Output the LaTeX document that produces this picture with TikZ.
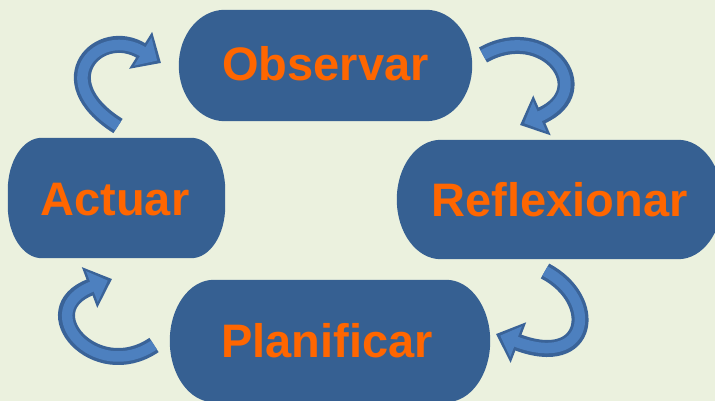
\documentclass[tikz,border=0pt]{standalone}
\usepackage{fontspec}
\setmainfont{Liberation Sans}
\usetikzlibrary{arrows.meta}
\definecolor{bgc}{HTML}{EBF1DE}
\definecolor{boxc}{HTML}{366092}
\definecolor{txtc}{HTML}{FF6600}
\definecolor{arrb}{HTML}{3A6398}
\definecolor{arrf}{HTML}{4D80BF}
\tikzset{
  stagebox/.style={rectangle, fill=none, draw=none,
    text=txtc, font=\bfseries\fontsize{47}{52}\selectfont, inner sep=0pt},
  arrowout/.style={line width=17pt, draw=arrb, line cap=butt,
    -{Triangle[length=24pt,width=42pt]}},
  arrowin/.style={line width=10.5pt, draw=arrf, line cap=butt, shorten >=4.5pt,
    -{Triangle[length=17pt,width=32pt]}},
}
% elliptic-cornered box behind a node: #1 node, #2 rx, #3 ry
\newcommand{\ellbox}[3]{%
  \fill[boxc] ([xshift=#2]#1.north west) -- ([xshift=-#2]#1.north east)
    arc[start angle=90,end angle=0,x radius=#2,y radius=#3]
    -- ([yshift=#3]#1.south east)
    arc[start angle=0,end angle=-90,x radius=#2,y radius=#3]
    -- ([xshift=#2]#1.south west)
    arc[start angle=270,end angle=180,x radius=#2,y radius=#3]
    -- ([yshift=-#3]#1.north west)
    arc[start angle=180,end angle=90,x radius=#2,y radius=#3] -- cycle;}
\begin{document}
\begin{tikzpicture}[x=1pt,y=-1pt]
\fill[bgc] (0,0) rectangle (715,401);
\useasboundingbox (0,0) rectangle (715,401);

\node[stagebox, minimum width=293pt, minimum height=111pt] (obs) at (325.5,65.5) {};
\node[stagebox, minimum width=325pt, minimum height=119pt] (ref) at (559.5,199.5) {};
\node[stagebox, minimum width=320pt, minimum height=122pt] (pla) at (330,341) {};
\node[stagebox, minimum width=217pt, minimum height=120pt] (act) at (116.5,198) {};

\ellbox{obs}{46pt}{55.5pt}
\ellbox{ref}{44pt}{59.5pt}
\ellbox{pla}{44pt}{61pt}
\ellbox{act}{34pt}{52pt}

\node[stagebox] (obst) at (325.5,64) {Observar};
\node[stagebox] (reft) at (559.5,200) {Reflexionar};
\node[stagebox] (plat) at (327,341) {Planificar};
\node[stagebox] (actt) at (115,200) {Actuar};

% arrow endpoints
\coordinate (a1s) at (118,126);
\coordinate (a1e) at (161,63);
\coordinate (a2s) at (483,55);
\coordinate (a2e) at (520,125);
\coordinate (a3s) at (545,271);
\coordinate (a3e) at (496,334);
\coordinate (a4s) at (154,345);
\coordinate (a4e) at (112,279);

\foreach \st in {arrowout,arrowin}{
  \draw[\st] (a1s) .. controls (45,80) and (100,25) .. (a1e);
  \draw[\st] (a2s) .. controls (545,20) and (600,90) .. (a2e);
  \draw[\st] (a3s) .. controls (600,300) and (590,370) .. (a3e);
  \draw[\st] (a4s) .. controls (95,385) and (30,310) .. (a4e);
}
\end{tikzpicture}
\end{document}
